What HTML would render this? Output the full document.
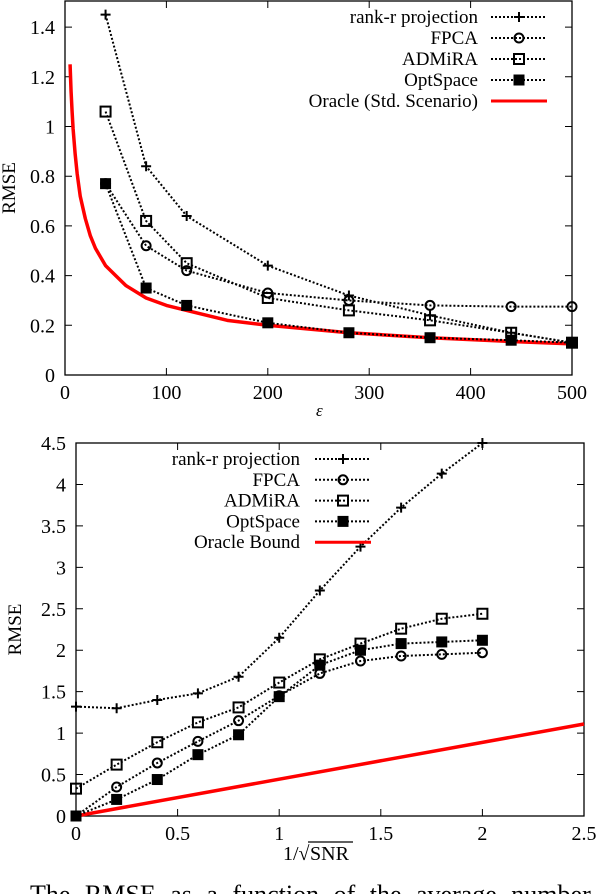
<!DOCTYPE html>
<html><head><meta charset="utf-8"><style>
html,body{margin:0;padding:0;background:#fff;width:600px;height:894px;overflow:hidden}
svg{display:block;font-family:"Liberation Serif",serif}
</style></head><body>
<svg id="svg" width="600" height="894">
<g id="top"></g>
<g id="bot"></g>
<text x="30" y="903" font-size="26" word-spacing="8">The RMSE as a function of the average number of obs</text>
</svg>
<script>
// ---- top chart data ----
const topX = [40, 80, 120, 200, 280, 360, 440, 500];
const topRank = [1.45, 0.84, 0.64, 0.44, 0.32, 0.24, 0.17, 0.13];
const topFPCA = [0.77, 0.52, 0.42, 0.33, 0.30, 0.28, 0.275, 0.275];
const topADM = [1.06, 0.62, 0.45, 0.31, 0.26, 0.22, 0.17, 0.13];
const topOpt = [0.77, 0.35, 0.28, 0.21, 0.17, 0.15, 0.14, 0.13];
const topOracleX = [5, 6, 7, 8, 10, 12, 15, 20, 25, 30, 40, 50, 60, 80, 100, 120, 160, 200, 280, 360, 440, 500];
const topOracleY = [1.25, 1.14, 1.06, 0.99, 0.89, 0.81, 0.72, 0.63, 0.56, 0.51, 0.44, 0.40, 0.36, 0.31, 0.28, 0.26, 0.22, 0.20, 0.17, 0.15, 0.135, 0.125];
const topXTicks = [0, 100, 200, 300, 400, 500];
const topYTicks = [0, 0.2, 0.4, 0.6, 0.8, 1, 1.2, 1.4];
// ---- bottom chart data ----
const botX = [0, 0.2, 0.4, 0.6, 0.8, 1.0, 1.2, 1.4, 1.6, 1.8, 2.0];
const botRank = [1.32, 1.30, 1.40, 1.48, 1.68, 2.15, 2.72, 3.25, 3.72, 4.13, 4.5];
const botFPCA = [0, 0.35, 0.64, 0.90, 1.15, 1.45, 1.72, 1.87, 1.93, 1.95, 1.97];
const botADM = [0.33, 0.62, 0.89, 1.13, 1.31, 1.61, 1.89, 2.08, 2.26, 2.38, 2.44];
const botOpt = [0, 0.20, 0.44, 0.74, 0.98, 1.44, 1.82, 2.00, 2.08, 2.10, 2.12];
const botOracleX = [0, 2.5];
const botOracleY = [0, 1.11];
const botXTicks = [0, 0.5, 1, 1.5, 2, 2.5];
const botYTicks = [0, 0.5, 1, 1.5, 2, 2.5, 3, 3.5, 4, 4.5];

const NS = "http://www.w3.org/2000/svg";
function mk(parent, tag, attrs, text) {
  const e = document.createElementNS(NS, tag);
  for (const k in attrs) e.setAttribute(k, attrs[k]);
  if (text !== undefined) e.textContent = text;
  parent.appendChild(e);
  return e;
}
function marker(g, type, x, y) {
  let e;
  if (type === 'plus') {
    e = mk(g, 'path', {d: `M${x-5},${y}H${x+5}M${x},${y-5}V${y+5}`, stroke: '#000', 'stroke-width': 2, fill: 'none'});
  } else if (type === 'circle') {
    e = mk(g, 'circle', {cx: x, cy: y, r: 4.5, stroke: '#000', 'stroke-width': 2, fill: 'none'});
  } else if (type === 'square') {
    e = mk(g, 'rect', {x: x-5, y: y-5, width: 10, height: 10, stroke: '#000', 'stroke-width': 2, fill: 'none'});
  } else {
    e = mk(g, 'rect', {x: x-5.5, y: y-5.5, width: 11, height: 11, fill: '#000'});
  }
  
  
}
function chart(g, cfg) {
  const sx = v => cfg.x0 + (v - cfg.xmin) / (cfg.xmax - cfg.xmin) * (cfg.x1 - cfg.x0);
  const sy = v => cfg.y1 - (v - cfg.ymin) / (cfg.ymax - cfg.ymin) * (cfg.y1 - cfg.y0);
  const frame = mk(g, 'rect', {x: cfg.x0, y: cfg.y0, width: cfg.x1 - cfg.x0, height: cfg.y1 - cfg.y0, fill: 'none', stroke: '#000', 'stroke-width': 1.3});
  
  
  cfg.xt.forEach(t => {
    const x = sx(t);
    const tk = mk(g, 'path', {d: `M${x},${cfg.y1}v-7M${x},${cfg.y0}v7`, stroke: '#000', 'stroke-width': 1});
    
    
    const lb = mk(g, 'text', {x: x, y: cfg.y1 + 24, 'text-anchor': 'middle', 'font-size': 20}, String(t));
    
    
  });
  cfg.yt.forEach(t => {
    const y = sy(t);
    const tk = mk(g, 'path', {d: `M${cfg.x0},${y}h7M${cfg.x1},${y}h-7`, stroke: '#000', 'stroke-width': 1});
    
    
    const lb = mk(g, 'text', {x: cfg.x0 - 10, y: y + 7, 'text-anchor': 'end', 'font-size': 20}, String(t));
    
    
  });
  const yl = mk(g, 'text', {x: 0, y: 0, 'font-size': 19, 'text-anchor': 'middle', transform: `translate(${cfg.ylx},${(cfg.y0 + cfg.y1) / 2}) rotate(-90)`}, 'RMSE');
  
  
  // oracle
  const op = cfg.oX.map((v, i) => `${i ? 'L' : 'M'}${sx(v)},${sy(cfg.oY[i])}`).join('');
  const ol = mk(g, 'path', {d: op, stroke: '#f00', 'stroke-width': 3.5, fill: 'none', 'stroke-linejoin': 'round'});
  
  
  // series
  cfg.series.forEach(s => {
    const sg = mk(g, 'g', {});
    
    
    const p = cfg.xs.map((v, i) => `${i ? 'L' : 'M'}${sx(v)},${sy(s.v[i])}`).join('');
    const ln = mk(sg, 'path', {d: p, stroke: '#000', 'stroke-width': 2, 'stroke-dasharray': '2,2', fill: 'none'});
    
    
    cfg.xs.forEach((v, i) => { if (s.v[i] <= cfg.ymax) marker(sg, s.m, sx(v), sy(s.v[i])); });
  });
  // legend
  const lg = mk(g, 'g', {});
  
  
  cfg.legend.forEach((L, i) => {
    const y = cfg.ly0 + i * cfg.ldy;
    const t = mk(lg, 'text', {x: cfg.ltx, y: y + 6, 'text-anchor': 'end', 'font-size': 19}, L.label);
    
    
    if (L.m === 'red') {
      const r = mk(lg, 'path', {d: `M${cfg.lx0},${y}H${cfg.lx1}`, stroke: '#f00', 'stroke-width': 3});
      
      
    } else {
      const r = mk(lg, 'path', {d: `M${cfg.lx0},${y}H${cfg.lx1}`, stroke: '#000', 'stroke-width': 2, 'stroke-dasharray': '2,2'});
      
      
      marker(lg, L.m, (cfg.lx0 + cfg.lx1) / 2, y);
    }
  });
}
chart(document.getElementById('top'), {
  x0: 65, x1: 572, y0: 1, y1: 375, xmin: 0, xmax: 500, ymin: 0, ymax: 1.505,
  xt: topXTicks, yt: topYTicks, xs: topX, oX: topOracleX, oY: topOracleY, ylx: 15,
  series: [{name: 'rank-r', v: topRank, m: 'plus'}, {name: 'fpca', v: topFPCA, m: 'circle'},
           {name: 'admira', v: topADM, m: 'square'}, {name: 'optspace', v: topOpt, m: 'filled'}],
  legend: [{label: 'rank-r projection', m: 'plus'}, {label: 'FPCA', m: 'circle'}, {label: 'ADMiRA', m: 'square'},
           {label: 'OptSpace', m: 'filled'}, {label: 'Oracle (Std. Scenario)', m: 'red'}],
  ly0: 17, ldy: 21, ltx: 478, lx0: 491, lx1: 547
});
chart(document.getElementById('bot'), {
  x0: 76, x1: 584, y0: 443, y1: 816, xmin: 0, xmax: 2.5, ymin: 0, ymax: 4.5,
  xt: botXTicks, yt: botYTicks, xs: botX, oX: botOracleX, oY: botOracleY, ylx: 21,
  series: [{name: 'rank-r', v: botRank, m: 'plus'}, {name: 'fpca', v: botFPCA, m: 'circle'},
           {name: 'admira', v: botADM, m: 'square'}, {name: 'optspace', v: botOpt, m: 'filled'}],
  legend: [{label: 'rank-r projection', m: 'plus'}, {label: 'FPCA', m: 'circle'}, {label: 'ADMiRA', m: 'square'},
           {label: 'OptSpace', m: 'filled'}, {label: 'Oracle Bound', m: 'red'}],
  ly0: 459, ldy: 20.8, ltx: 300, lx0: 315, lx1: 371
});
const T = document.getElementById('top');
const ex = mk(T, 'text', {x: 316, y: 416, 'font-size': 17, 'font-style': 'italic'}, 'ε');


const B = document.getElementById('bot');
const bx = mk(B, 'text', {x: 283, y: 860, 'font-size': 20}, '1/√');


const snr = mk(B, 'text', {x: 310, y: 860, 'font-size': 20}, 'SNR');


const ov = mk(B, 'path', {d: 'M308,842H353', stroke: '#000', 'stroke-width': 1.2});


</script>
</body></html>
